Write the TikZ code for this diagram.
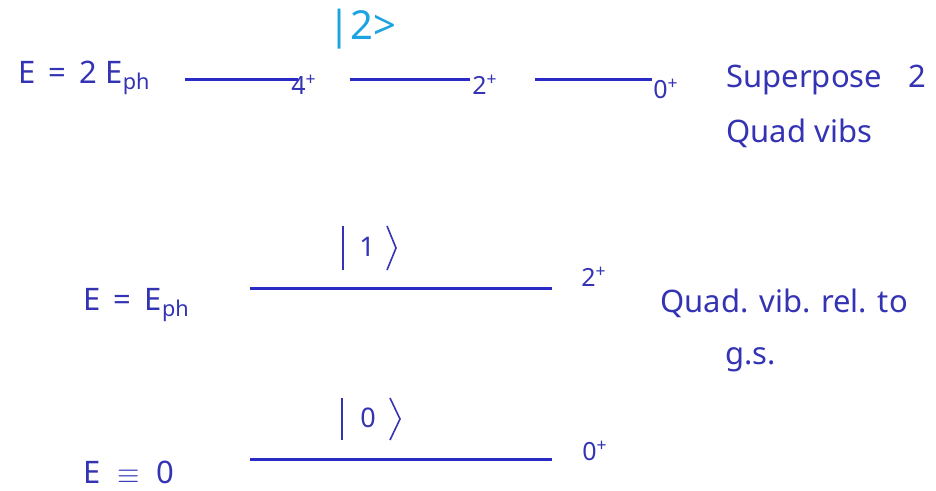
\documentclass[tikz,border=0pt]{standalone}
\usepackage{fontspec}
\setmainfont{Noto Sans}
\usetikzlibrary{positioning}
\definecolor{lvtext}{HTML}{3333B4}
\definecolor{lvline}{HTML}{2A2AC6}
\definecolor{lvcyan}{HTML}{1CA4E2}

\begin{document}
\begin{tikzpicture}[x=0.5pt, y=-0.5pt,
    every node/.style={text=lvtext, inner sep=0pt, font=\fontsize{15.5}{19}\selectfont},
    level/.style={draw=lvline, line width=1.5pt},
    spin/.style={font=\fontsize{12.5}{15}\selectfont},
    ketnum/.style={font=\fontsize{13.5}{16}\selectfont},
    ketbar/.style={draw=lvtext, line width=0.8pt}]
  \useasboundingbox (0,0) rectangle (936,491);
  % two phonons: 4+, 2+, 0+
  \node[anchor=west] (etwo) at (18,78) {E \,=\, 2 E\textsubscript{ph}};
  \node[text=lvcyan, font=\fontsize{20}{24}\selectfont, anchor=west] (ktwo) at (328,29) {|2>};
  \node[spin, anchor=west] (sfour) at (291,85) {4\textsuperscript{+}};
  \node[spin, anchor=west] (stwo) at (472,85) {2\textsuperscript{+}};
  \node[spin, anchor=west] (szero) at (653,89) {0\textsuperscript{+}};
  \draw[level] (185,80) -- (298,80);
  \draw[level] (350,80) -- (470,80);
  \draw[level] (535,80) -- (652,80);
  \node[anchor=west] (sup) at (726,80) {Superpose\hspace{13pt}2};
  \node[anchor=west] (quadv) at (726,133) {Quad vibs};

  % one phonon
  \node[anchor=west] (eone) at (83,305) {E \,=\, E\textsubscript{ph}};
  \node[ketnum] (kone) at (367,247) {\bfseries 1};
  \draw[ketbar] (343,226) -- (343,270);
  \draw[ketbar] (387,226) -- (396,248) -- (387,270);
  \draw[level] (250,289) -- (552,289);
  \node[spin, anchor=west] (sone) at (581,277) {2\textsuperscript{+}};
  \node[anchor=west] (rel) at (660,303) {Quad. vib. rel. to};
  \node[anchor=west] (gs) at (725,360) {g.s.};

  % ground state
  \node[anchor=west] (ezero) at (83,472) {E \;\(\equiv\)\; 0};
  \node[ketnum] (kzero) at (368,418) {0};
  \draw[ketbar] (342,398) -- (342,440);
  \draw[ketbar] (390,398) -- (400,419) -- (390,440);
  \draw[level] (250,459) -- (552,459);
  \node[spin, anchor=west] (sgs) at (582,451) {0\textsuperscript{+}};
\end{tikzpicture}
\end{document}
